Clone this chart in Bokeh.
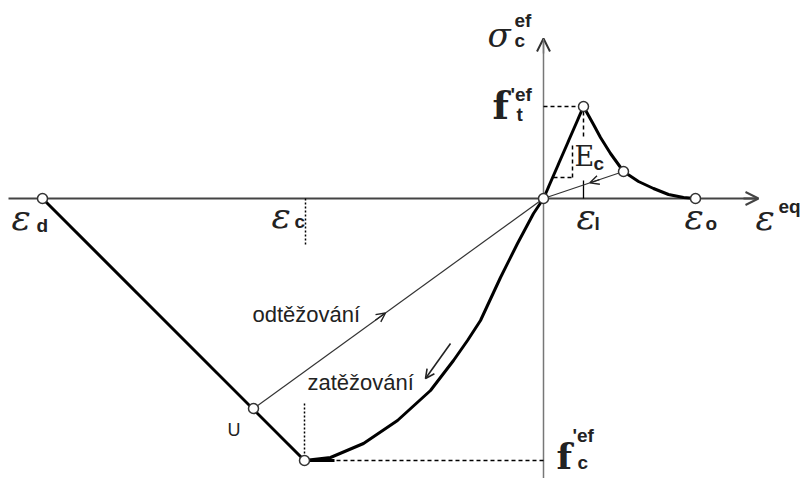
from bokeh.plotting import figure
from bokeh.models import Range1d, Arrow, OpenHead
from bokeh.core.properties import value
from bokeh.embed import file_html
from bokeh.resources import INLINE

# ---- data (schematic units: strain right, stress up) ----
# compression loading branch (origin -> peak compression)
comp_x = [0, -10, -26, -43, -63, -76, -90, -113, -146, -180, -213, -239]
comp_y = [0, -15, -45, -79, -122, -142, -162, -192, -222, -245, -259, -262]
# tension loading branch
tens_x = [0, 40]
tens_y = [0, 92]
# tension softening branch
soft_x = [40, 50, 57, 67, 80, 95, 110, 125, 140, 152]
soft_y = [92, 74, 61, 45, 27, 17, 10, 4, 1, 0]
# post-peak compression branch (eps_d -> peak)
post_x = [-501, -239]
post_y = [0, -262]
# unloading point U
u_x = -290
u_y = -210
# softening unloading point
su_x = 80
su_y = 27
# key values
eps_d = -501
eps_c = -239
eps_1 = 40
eps_0 = 152
f_t = 92
f_c = -262

p = figure(width=801, height=478, output_backend="svg", toolbar_location=None,
           x_range=Range1d(-543, 258), y_range=Range1d(-280, 198),
           min_border=0, background_fill_color="white")
p.axis.visible = False
p.grid.visible = False
p.outline_line_color = None

hc = "#444444"
vc = "#777777"
# axes
p.segment(x0=[-535], y0=[0], x1=[213], y1=[0], line_color=hc, line_width=2)
p.segment(x0=[0], y0=[-280], x1=[0], y1=[158], line_color=vc, line_width=1.5)
p.add_layout(Arrow(end=OpenHead(size=13, line_color=hc, line_width=2), x_start=200, y_start=0,
                   x_end=215, y_end=0, line_color=hc, line_width=2))
p.add_layout(Arrow(end=OpenHead(size=13, line_color="#333333", line_width=2), x_start=0, y_start=145,
                   x_end=0, y_end=160, line_color=vc, line_width=1.5))

# dashed helper lines
d = dict(line_color="black", line_width=1.5, line_dash="4 3")
p.segment(x0=[0], y0=[f_t], x1=[eps_1 - 4], y1=[f_t], **d)
p.segment(x0=[eps_1], y0=[f_t - 5], x1=[eps_1], y1=[60], **d)
p.segment(x0=[eps_1], y0=[18], x1=[eps_1], y1=[0], line_color="black", line_width=1.3)
p.segment(x0=[29], y0=[53], x1=[29], y1=[21], **d)
p.segment(x0=[10], y0=[21], x1=[29], y1=[21], **d)
p.segment(x0=[eps_c + 1], y0=[0], x1=[eps_c + 1], y1=[-47], line_color="black", line_width=1.5, line_dash="2 2")
p.segment(x0=[eps_c], y0=[-205], x1=[eps_c], y1=[-257], line_color="black", line_width=1.5, line_dash="2 2")
p.segment(x0=[eps_c + 32], y0=[f_c], x1=[0], y1=[f_c], **d)

# unloading lines (thin)
p.line([u_x, 0], [u_y, 0], line_color="#333333", line_width=1.2)
p.line([su_x, 0], [su_y, 0], line_color="#333333", line_width=1.2)

# main curves (thick)
p.line(post_x, post_y, line_color="black", line_width=3)
p.line(comp_x, comp_y, line_color="black", line_width=3)
p.line(tens_x, tens_y, line_color="black", line_width=3)
p.line(soft_x, soft_y, line_color="black", line_width=3)
p.line([eps_c, eps_c + 30], [f_c, f_c], line_color="black", line_width=3)

# direction arrows
def frac(x0, y0, x1, y1, t):
    return x0 + (x1 - x0) * t, y0 + (y1 - y0) * t

ax0, ay0 = frac(u_x, u_y, 0, 0, 0.42)
ax1, ay1 = frac(u_x, u_y, 0, 0, 0.455)
p.add_layout(Arrow(end=OpenHead(size=9, line_color="#222222", line_width=1.4),
                   x_start=ax0, y_start=ay0, x_end=ax1, y_end=ay1, line_color="#222222", line_width=1.2))
bx0, by0 = frac(su_x, su_y, 0, 0, 0.3)
bx1, by1 = frac(su_x, su_y, 0, 0, 0.42)
p.add_layout(Arrow(end=OpenHead(size=9, line_color="#222222", line_width=1.4),
                   x_start=bx0, y_start=by0, x_end=bx1, y_end=by1, line_color="#222222", line_width=1.2))
p.add_layout(Arrow(end=OpenHead(size=9, line_color="#222222", line_width=1.6),
                   x_start=-93, y_start=-145, x_end=-118, y_end=-180, line_color="#222222", line_width=1.6))

# points
pts_x = [eps_d, u_x, eps_c, 0, eps_1, su_x, eps_0]
pts_y = [0, u_y, f_c, 0, f_t, su_y, 0]
p.scatter(pts_x, pts_y, size=10, marker="circle", fill_color="white", line_color="#333333", line_width=1.5)

# ---- text ----
serif = value("DejaVu Serif")
sans = value("Liberation Sans")

def txt(x, y, s, size, font=sans, style="normal", color="#222222"):
    # y is the desired baseline; compensate for the renderer's baseline offset
    p.text(x=[x], y=[y + 0.35 * size], text=[s], text_font=font, text_font_size=f"{size}px",
           text_font_style=style, text_color=color, text_align="left", text_baseline="alphabetic")

# sigma_c^ef
txt(-56, 152, "σ", 34, serif, "italic")
txt(-29, 171, "ef", 19, sans, "bold")
txt(-29, 151, "c", 19, sans, "bold")
# f't^ef
txt(-51, 80, "f", 38, serif, "bold")
txt(-33, 97, "'ef", 19, sans, "bold")
txt(-27, 77, "t", 19, sans, "bold")
# f'c^ef
txt(13, -270, "f", 36, serif, "bold")
txt(29, -244, "'ef", 19, sans, "bold")
txt(34, -271, "c", 19, sans, "bold")
# eps^eq
txt(212, -32, "ε", 36, serif, "italic")
txt(235, -15, "eq", 19, sans, "bold")
# eps_d
txt(-532, -32, "ε", 36, serif, "italic")
txt(-507, -34, "d", 19, sans, "bold")
# eps_c
txt(-272, -30, "ε", 36, serif, "italic")
txt(-249, -30, "c", 19, sans, "bold")
# eps_1
txt(33, -31, "ε", 36, serif, "italic")
txt(51, -32, "l", 19, sans, "bold")
# eps_0
txt(141, -31, "ε", 36, serif, "italic")
txt(162, -32, "o", 19, sans, "bold")
# E_c
txt(31, 33, "E", 27, serif)
txt(50, 28, "c", 19, sans, "bold")
# U
txt(-316, -238, "U", 18, sans)
# annotations
txt(-291, -124, "odtěžování", 22, sans)
txt(-236, -192, "zatěžování", 22, sans)

open("out.html", "w").write(file_html(p, INLINE))
